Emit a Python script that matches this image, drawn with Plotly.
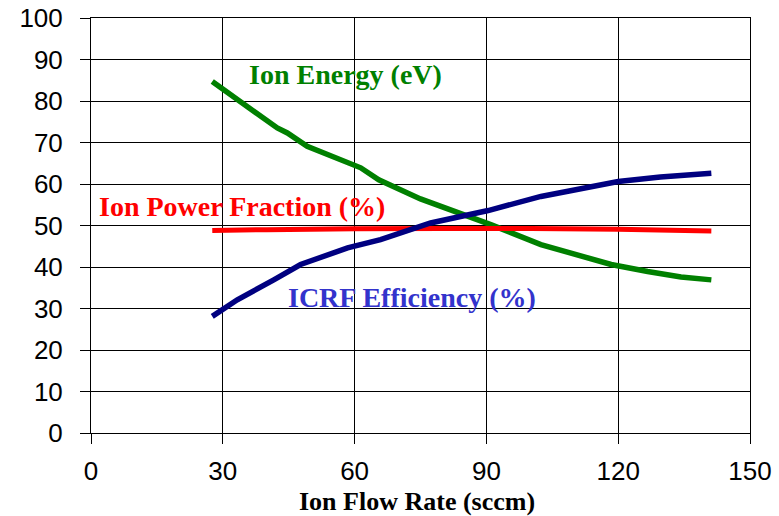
import plotly.graph_objects as go

# Ion flow rate (sccm) and the three measured curves
energy_flow = [27.6, 32.4, 42.4, 44.7, 49.2, 61.4, 65.5, 75.0, 91.0, 102.4, 113.0, 118.4, 126.7, 134.3, 141.2]
ion_energy = [84.7, 81.1, 73.5, 72.3, 69.1, 63.9, 61.0, 56.4, 50.2, 45.4, 42.2, 40.6, 38.9, 37.6, 36.9]

icrf_flow = [27.6, 33.3, 41.6, 47.7, 58.4, 65.9, 77.3, 90.4, 102.4, 116.1, 120.0, 129.6, 141.2]
icrf_eff = [28.1, 32.1, 36.9, 40.6, 44.6, 46.6, 50.6, 53.6, 57.0, 59.8, 60.6, 61.7, 62.6]

power_flow = [27.6, 40.0, 60.0, 90.0, 120.0, 141.2]
power_frac = [48.8, 49.0, 49.2, 49.3, 49.1, 48.7]

x_ticks = [0, 30, 60, 90, 120, 150]
y_ticks = [0, 10, 20, 30, 40, 50, 60, 70, 80, 90, 100]

GREEN = "#008000"
RED = "#FF0000"
NAVY = "#000080"
BLUE_TXT = "#3333CC"

fig = go.Figure()
fig.add_trace(go.Scatter(x=energy_flow, y=ion_energy, mode="lines",
                         line=dict(color=GREEN, width=5.5), showlegend=False))
fig.add_trace(go.Scatter(x=power_flow, y=power_frac, mode="lines", line_shape="spline",
                         line=dict(color=RED, width=5), showlegend=False))
fig.add_trace(go.Scatter(x=icrf_flow, y=icrf_eff, mode="lines",
                         line=dict(color=NAVY, width=5.5), showlegend=False))

label_font = "Liberation Serif, Times New Roman, serif"
fig.add_annotation(x=58.0, y=86.3, text="<b>Ion Energy (eV)</b>", showarrow=False,
                   font=dict(family=label_font, size=28, color=GREEN))
fig.add_annotation(x=34.4, y=54.5, text="<b>Ion Power Fraction (%)</b>", showarrow=False,
                   font=dict(family=label_font, size=28, color=RED))
fig.add_annotation(x=73.1, y=32.6, text="<b>ICRF Efficiency (%)</b>", showarrow=False,
                   font=dict(family=label_font, size=28, color=BLUE_TXT))

# axis title
fig.add_annotation(xref="paper", yref="paper", x=0.495, y=0, yanchor="middle", yshift=-68,
                   text="<b>Ion Flow Rate (sccm)</b>", showarrow=False,
                   font=dict(family=label_font, size=26, color="black"))

tick_font = dict(family="Liberation Sans, Arial, sans-serif", size=26, color="black")

fig.update_xaxes(range=[0, 150], tickvals=x_ticks, ticktext=[str(v) for v in x_ticks],
                 showgrid=True, gridcolor="black", gridwidth=1,
                 showline=True, linecolor="black", linewidth=1, mirror=True,
                 ticks="outside", ticklen=10, tickcolor="black", tickwidth=1,
                 zeroline=False, tickfont=tick_font, ticklabelstandoff=5,
                 automargin=False)
fig.update_yaxes(range=[0, 100], tickvals=y_ticks, ticktext=[str(v) for v in y_ticks],
                 showgrid=True, gridcolor="black", gridwidth=1,
                 showline=True, linecolor="black", linewidth=1, mirror=True,
                 ticks="outside", ticklen=10, tickcolor="black", tickwidth=1,
                 zeroline=False, tickfont=tick_font, ticklabelstandoff=12,
                 automargin=False)

fig.update_layout(width=779, height=516,
                  margin=dict(l=91, r=29, t=18, b=83),
                  plot_bgcolor="white", paper_bgcolor="white")

fig.write_html("out.html")
